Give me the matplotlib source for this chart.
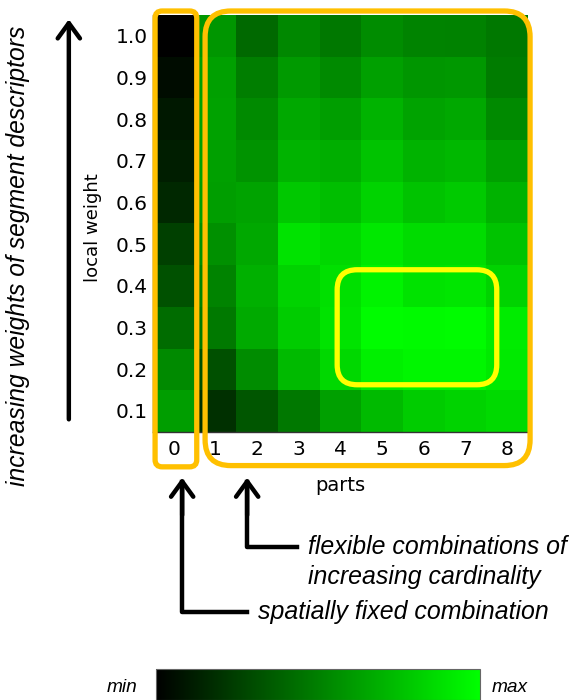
import numpy as np
import matplotlib
matplotlib.use("Agg")
import matplotlib.pyplot as plt
from matplotlib.colors import LinearSegmentedColormap
from matplotlib.patches import FancyBboxPatch

# data: green level of each cell (0 = min, 255 = max), rows from weight 1.0 down to 0.1
parts = [0, 1, 2, 3, 4, 5, 6, 7, 8]
weights = [1.0, 0.9, 0.8, 0.7, 0.6, 0.5, 0.4, 0.3, 0.2, 0.1]
scores = [
    [0, 150, 106, 136, 120, 140, 132, 130, 120],
    [12, 160, 126, 154, 138, 160, 150, 152, 124],
    [24, 162, 138, 168, 158, 180, 164, 168, 138],
    [30, 160, 148, 180, 174, 196, 180, 184, 160],
    [40, 158, 164, 200, 190, 212, 196, 202, 178],
    [64, 144, 168, 228, 216, 232, 220, 220, 196],
    [82, 132, 176, 212, 224, 244, 228, 230, 212],
    [108, 122, 170, 204, 228, 252, 250, 252, 236],
    [138, 80, 140, 186, 216, 240, 246, 246, 234],
    [158, 48, 86, 120, 160, 186, 204, 212, 218],
]

ORANGE = "#ffc000"
YELLOW = "#ffff00"
ann_font = "Liberation Sans"

cmap = LinearSegmentedColormap.from_list("blackgreen", ["#000000", "#00ff00"])

fig = plt.figure(figsize=(5.7, 7.0), dpi=100)
ax = fig.add_axes([153 / 570, 1 - 432 / 700, 375 / 570, 417 / 700])

n_rows = len(weights)
n_cols = len(parts)
im = ax.imshow(np.array(scores), cmap=cmap, vmin=0, vmax=255,
               extent=(-0.5, n_cols - 0.5, -0.5, n_rows - 0.5),
               interpolation="nearest", aspect="equal")

ypos = [n_rows - 1 - i for i in range(n_rows)]
ax.set_yticks(ypos)
ax.set_yticklabels(["%.1f" % w for w in weights])
ax.set_xticks(parts)
ax.set_xticklabels([str(p) for p in parts])
ax.tick_params(length=0, labelsize=14.5, pad=4)
ax.tick_params(axis="x", pad=6)
for side in ["top", "right"]:
    ax.spines[side].set_visible(False)
for side in ["left", "bottom"]:
    ax.spines[side].set_color("#333333")
    ax.spines[side].set_linewidth(1.0)

ax.set_xlabel("parts", fontsize=14)
ax.xaxis.set_label_coords(0.5, -0.105)
ax.set_ylabel("local weight", fontsize=13)
ax.yaxis.set_label_coords(-0.135, 0.49)


def rbox(x0, y0, x1, y1, r, color):
    p = FancyBboxPatch((x0, y0), x1 - x0, y1 - y0,
                       boxstyle="round,pad=0,rounding_size=%g" % r,
                       fill=False, edgecolor=color, linewidth=3.8,
                       transform=ax.transData, clip_on=False, zorder=5)
    ax.add_patch(p)


# orange boxes: fixed column and flexible columns, yellow box: best region
rbox(-0.45, -1.34, 0.55, 9.6, 0.17, ORANGE)
rbox(0.75, -1.31, 8.55, 9.6, 0.62, ORANGE)
rbox(3.92, 0.63, 7.75, 3.39, 0.48, YELLOW)

arrow = dict(arrowstyle="->,head_length=0.55,head_width=0.4", lw=3.2,
             color="black", shrinkA=0, shrinkB=0, mutation_scale=20)

# big arrow on the left
ax.annotate("", xy=(-2.52, 9.4), xytext=(-2.52, -0.2), arrowprops=arrow,
            annotation_clip=False)

# elbow arrows below the columns
ax.plot([0.2, 0.2, 1.76], [-1.7, -4.82, -4.82], color="black", lw=3.2,
        solid_joinstyle="round", clip_on=False, scalex=False, scaley=False)
ax.annotate("", xy=(0.2, -1.6), xytext=(0.2, -2.5), arrowprops=arrow,
            annotation_clip=False)
ax.plot([1.76, 1.76, 2.96], [-1.7, -3.26, -3.26], color="black", lw=3.2,
        solid_joinstyle="round", clip_on=False, scalex=False, scaley=False)
ax.annotate("", xy=(1.76, -1.6), xytext=(1.76, -2.5), arrowprops=arrow,
            annotation_clip=False)

ax.text(2.02, -4.82, "spatially fixed combination", fontsize=17.9,
        style="italic", family=ann_font, ha="left", va="center")
ax.text(3.22, -3.62, "flexible combinations of\nincreasing cardinality",
        fontsize=17.9, style="italic", family=ann_font, ha="left",
        va="center", linespacing=1.3)

ax.set_xlim(-0.5, n_cols - 0.5)
ax.set_ylim(-0.5, n_rows - 0.5)

fig.text(18 / 570, 1 - 256 / 700, "increasing weights of segment descriptors",
         rotation=90, fontsize=17.7, style="italic", family=ann_font,
         ha="center", va="center")

# colour scale at the bottom
cax = fig.add_axes([156 / 570, 0, 324 / 570, 31 / 700])
cb = fig.colorbar(im, cax=cax, orientation="horizontal")
cb.set_ticks([])
cb.outline.set_edgecolor("#666666")
cb.outline.set_linewidth(0.8)
fig.text(122 / 570, 1 - 688 / 700, "min", fontsize=13.8, style="italic",
         family=ann_font, ha="center", va="center")
fig.text(510 / 570, 1 - 688 / 700, "max", fontsize=13.8, style="italic",
         family=ann_font, ha="center", va="center")

fig.savefig("out.png", dpi=100)
